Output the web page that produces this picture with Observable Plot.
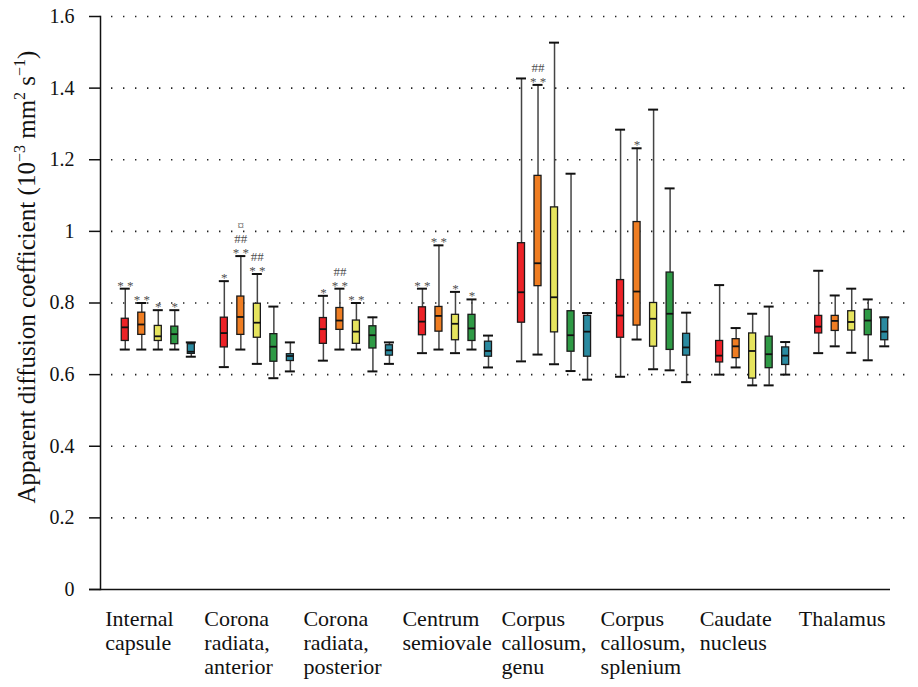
<!DOCTYPE html>
<html><head><meta charset="utf-8">
<script src="https://cdn.jsdelivr.net/npm/d3@7"></script>
<script src="https://cdn.jsdelivr.net/npm/@observablehq/plot@0.6"></script>
<style>body{margin:0;background:#fff} svg{display:block}</style>
</head><body><div id="chart"></div>
<script>
const regions = ["Internal\ncapsule", "Corona\nradiata,\nanterior", "Corona\nradiata,\nposterior", "Centrum\nsemiovale",
  "Corpus\ncallosum,\ngenu", "Corpus\ncallosum,\nsplenium", "Caudate\nnucleus", "Thalamus"];
const groups = ["A", "B", "C", "D", "E"];
const colors = ["#ec2227", "#ef7d22", "#e6e45e", "#2e9a45", "#2a8aa0"];
const yTicks = [0, 0.2, 0.4, 0.6, 0.8, 1, 1.2, 1.4, 1.6];

const lows = [
  [0.670,0.670,0.670,0.670,0.650],
  [0.621,0.670,0.630,0.590,0.609],
  [0.639,0.670,0.670,0.609,0.630],
  [0.660,0.670,0.660,0.670,0.620],
  [0.637,0.656,0.629,0.610,0.586],
  [0.594,0.698,0.615,0.612,0.579],
  [0.600,0.620,0.570,0.570,0.600],
  [0.660,0.679,0.661,0.640,0.679]];
const q1s = [
  [0.694,0.711,0.694,0.685,0.658],
  [0.676,0.711,0.703,0.636,0.638],
  [0.686,0.725,0.686,0.673,0.653],
  [0.710,0.720,0.696,0.694,0.650],
  [0.745,0.847,0.718,0.664,0.650],
  [0.703,0.737,0.678,0.669,0.653],
  [0.634,0.646,0.589,0.618,0.627],
  [0.715,0.722,0.723,0.710,0.696]];
const medians = [
  [0.732,0.740,0.707,0.713,0.664],
  [0.716,0.761,0.745,0.678,0.652],
  [0.727,0.751,0.720,0.710,0.668],
  [0.748,0.764,0.742,0.729,0.666],
  [0.830,0.911,0.816,0.710,0.720],
  [0.765,0.832,0.756,0.770,0.676],
  [0.653,0.679,0.666,0.657,0.653],
  [0.734,0.750,0.747,0.751,0.720]];
const q3s = [
  [0.756,0.773,0.736,0.734,0.685],
  [0.759,0.818,0.798,0.713,0.657],
  [0.758,0.786,0.751,0.735,0.682],
  [0.788,0.789,0.767,0.767,0.692],
  [0.967,1.155,1.067,0.777,0.764],
  [0.864,1.026,0.800,0.885,0.714],
  [0.694,0.699,0.715,0.706,0.676],
  [0.764,0.764,0.777,0.781,0.758]];
const highs = [
  [0.840,0.800,0.780,0.780,0.690],
  [0.861,0.931,0.881,0.790,0.690],
  [0.820,0.840,0.800,0.760,0.690],
  [0.840,0.961,0.831,0.810,0.709],
  [1.427,1.409,1.527,1.161,0.772],
  [1.284,1.232,1.340,1.120,0.773],
  [0.850,0.730,0.770,0.790,0.691],
  [0.890,0.821,0.840,0.810,0.760]];
const stars = [
  ["* *","* *","*","*",""],
  ["*","* *","* *","",""],
  ["*","* *","* *","",""],
  ["* *","* *","*","*",""],
  ["","* *","","",""],
  ["","*","","",""],
  ["","","","",""],
  ["","","","",""]];
const hashes = [
  ["","","","",""],
  ["","##","##","",""],
  ["","##","","",""],
  ["","","","",""],
  ["","##","","",""],
  ["","","","",""],
  ["","","","",""],
  ["","","","",""]];
const currency = [
  ["","","","",""],
  ["","¤","","",""],
  ["","","","",""],
  ["","","","",""],
  ["","","","",""],
  ["","","","",""],
  ["","","","",""],
  ["","","","",""]];

const data = regions.flatMap((r, i) => groups.map((g, j) => ({
  key: `${i}|${g}`, group: g,
  low: lows[i][j], q1: q1s[i][j], med: medians[i][j], q3: q3s[i][j], high: highs[i][j],
  note: [currency[i][j], hashes[i][j], stars[i][j]].filter(s => s).join("\n")
})));
const notes = data.filter(d => d.note);
const xDomain = ["pad", ...regions.flatMap((r, i) => [...groups.map(g => `${i}|${g}`), `${i}|gap`])];
const labels = regions.map((r, i) => ({key: `${i}|A`, label: r}));

const font = "'Liberation Serif', 'DejaVu Serif', serif";
const plot = Plot.plot({
  width: 918, height: 687,
  marginTop: 16, marginBottom: 98, marginLeft: 100, marginRight: 9,
  style: {fontFamily: font, background: "#fff", color: "#111"},
  x: {type: "band", domain: xDomain, padding: 0, round: false, axis: null},
  y: {domain: [0, 1.6], label: null},
  color: {domain: groups, range: colors},
  marks: [
    Plot.gridY(yTicks.slice(1), {stroke: "#222", strokeOpacity: 1, strokeWidth: 1.6, strokeDasharray: "1.4,10.6", strokeDashoffset: -11}),
    Plot.axisY(yTicks, {tickSize: 11, tickPadding: 15, fontSize: 20, tickFormat: d3.format("~g"), label: null, strokeWidth: 1.5}),
    Plot.frame({anchor: "left", strokeWidth: 1.5}),
    Plot.ruleY([0], {insetLeft: -11, insetRight: 19, strokeWidth: 1.5}),
    Plot.ruleX(data, {x: "key", y1: "low", y2: "high", stroke: "#444", strokeWidth: 1.5}),
    Plot.tickY(data, {x: "key", y: "low", insetLeft: 3.25, insetRight: 3.25, stroke: "#111", strokeWidth: 2}),
    Plot.tickY(data, {x: "key", y: "high", insetLeft: 3.25, insetRight: 3.25, stroke: "#111", strokeWidth: 2}),
    Plot.barY(data, {x: "key", y1: "q1", y2: "q3", fill: "group", stroke: "#1a1a1a", strokeWidth: 1.3, insetLeft: 4.75, insetRight: 4.75}),
    Plot.tickY(data, {x: "key", y: "med", insetLeft: 4.75, insetRight: 4.75, stroke: "#111", strokeWidth: 1.8}),
    Plot.text(notes, {x: "key", y: "high", text: "note", dy: 1, lineAnchor: "bottom", lineHeight: 1.05, fontSize: 13, fill: "#505050"}),
    Plot.text(labels, {x: "key", text: "label", frameAnchor: "bottom", dy: 20, dx: -20, lineAnchor: "top", textAnchor: "start", fontSize: 22, lineHeight: 1.08, fill: "#111"})
  ]
});
document.getElementById("chart").appendChild(plot);

// y-axis title with superscripts
const svg = d3.select(plot);
const t = svg.append("text")
  .attr("transform", "translate(35,277) rotate(-90)")
  .attr("text-anchor", "middle")
  .attr("font-family", font)
  .attr("font-size", 25)
  .attr("fill", "#111");
t.append("tspan").text("Apparent diffusion coefficient (10");
t.append("tspan").attr("dy", -10).attr("font-size", 16).text("−3");
t.append("tspan").attr("dy", 10).text(" mm");
t.append("tspan").attr("dy", -10).attr("font-size", 16).text("2");
t.append("tspan").attr("dy", 10).text(" s");
t.append("tspan").attr("dy", -10).attr("font-size", 16).text("−1");
t.append("tspan").attr("dy", 10).text(")");
</script>
</body></html>
